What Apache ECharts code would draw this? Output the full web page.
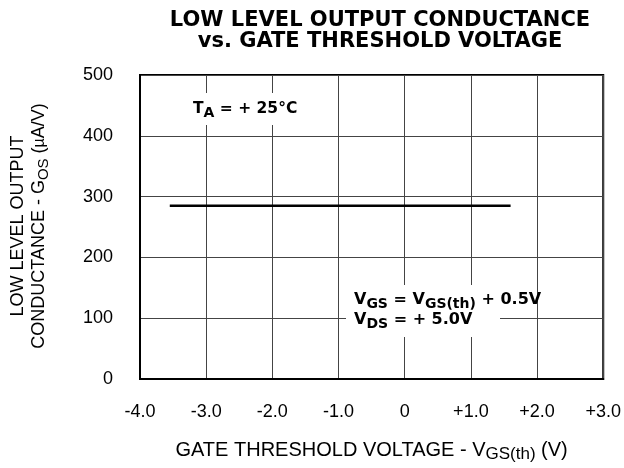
<!DOCTYPE html>
<html>
<head>
<meta charset="utf-8">
<script src="https://cdn.jsdelivr.net/npm/echarts@6/dist/echarts.min.js"></script>
<style>
html,body{margin:0;padding:0;background:#fff;}
#c{width:624px;height:468px;}
</style>
</head>
<body>
<div id="c"></div>
<script>
// Data
const xTicks = [-4, -3, -2, -1, 0, 1, 2, 3];
const yTicks = [0, 100, 200, 300, 400, 500];
const gateThreshold = [-3.55, 1.6];      // V
const conductance = [285, 285];          // µA/V

const FONT = 'Liberation Sans, Arial, Helvetica, sans-serif';
const BFONT = 'DejaVu Sans, Liberation Sans, sans-serif';
const seriesData = gateThreshold.map((x, i) => [x, conductance[i]]);

const chart = echarts.init(document.getElementById('c'), null, {renderer: 'canvas'});
chart.setOption({
  backgroundColor: '#fff',
  animation: false,
  title: {
    text: 'LOW LEVEL OUTPUT CONDUCTANCE\nvs. GATE THRESHOLD VOLTAGE',
    left: 375, textAlign: 'center', top: 5,
    textStyle: {fontFamily: BFONT, fontSize: 21, fontWeight: 'bold', color: '#000', lineHeight: 21}
  },
  grid: {left: 140, right: 13, top: 75, bottom: 87, show: true, borderColor: '#000', borderWidth: 2, backgroundColor: 'transparent'},
  xAxis: {
    type: 'value', min: xTicks[0], max: xTicks[xTicks.length - 1], interval: 1,
    axisLine: {show: true, onZero: false, lineStyle: {color: '#000', width: 2}},
    axisTick: {show: false},
    splitLine: {show: true, lineStyle: {color: '#444', width: 1}},
    axisLabel: {
      margin: 24, fontFamily: FONT, fontSize: 18, color: '#000',
      formatter: v => v > 0 ? '+' + v.toFixed(1) : (v === 0 ? '0' : v.toFixed(1))
    },
    name: 'GATE THRESHOLD VOLTAGE - V{s|GS(th)} (V)',
    nameLocation: 'middle', nameGap: 58,
    nameTextStyle: {
      fontFamily: FONT, fontSize: 20, color: '#000',
      rich: {s: {fontFamily: FONT, fontSize: 17, color: '#000', padding: [9, 0, 0, 0]}}
    }
  },
  yAxis: {
    type: 'value', min: yTicks[0], max: yTicks[yTicks.length - 1], interval: 100,
    axisLine: {show: true, onZero: false, lineStyle: {color: '#000', width: 2}},
    axisTick: {show: false},
    splitLine: {show: true, lineStyle: {color: '#444', width: 1}},
    axisLabel: {margin: 27, fontFamily: FONT, fontSize: 18, color: '#000'}
  },
  series: [{
    type: 'line', data: seriesData, showSymbol: false, symbol: 'none',
    lineStyle: {color: '#000', width: 2.5}, silent: true
  }],
  graphic: [
    {
      type: 'text', x: 29, y: 226, rotation: Math.PI / 2,
      style: {
        text: 'LOW LEVEL OUTPUT\nCONDUCTANCE - G{s|OS} ({m|µ}A/V)',
        align: 'center', verticalAlign: 'middle',
        fontFamily: FONT, fontSize: 18, fill: '#000', lineHeight: 21,
        rich: {
          s: {fontFamily: FONT, fontSize: 15, fill: '#000', padding: [8, 0, 0, 0]},
          m: {fontFamily: FONT, fontSize: 16, fill: '#000'}
        }
      }
    },
    {
      type: 'rect', shape: {x: 186, y: 93, width: 112, height: 32}, style: {fill: '#fff'}, z: 50
    },
    {
      type: 'text', x: 193, y: 109, z: 51,
      style: {
        text: 'T{s|A} = + 25°C', verticalAlign: 'middle',
        fontFamily: BFONT, fontSize: 15.5, fontWeight: 'bold', fill: '#000',
        rich: {s: {fontFamily: BFONT, fontSize: 14, fontWeight: 'bold', fill: '#000', padding: [8, 0, 0, 0]}}
      }
    },
    {
      type: 'rect', shape: {x: 346, y: 285, width: 154, height: 52}, style: {fill: '#fff'}, z: 50
    },
    {
      type: 'text', x: 354, y: 310, z: 51,
      style: {
        text: 'V{s|GS} = V{s|GS(th)} + 0.5V\nV{s|DS} = + 5.0V', verticalAlign: 'middle',
        fontFamily: BFONT, fontSize: 16, fontWeight: 'bold', fill: '#000', lineHeight: 20,
        rich: {s: {fontFamily: BFONT, fontSize: 14, fontWeight: 'bold', fill: '#000', padding: [8, 0, 0, 0], lineHeight: 20}}
      }
    }
  ]
});
</script>
</body>
</html>
